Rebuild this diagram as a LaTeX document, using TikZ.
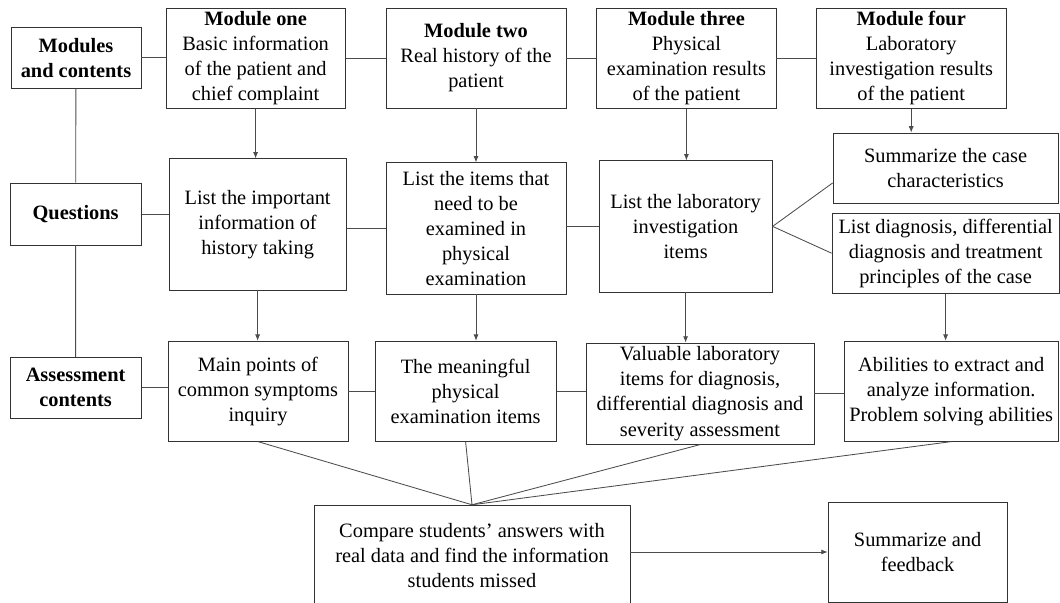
\documentclass[tikz,border=0pt]{standalone}
\usepackage{fontspec}
\setmainfont{Liberation Serif}
\usetikzlibrary{positioning,arrows.meta}

\begin{document}
\begin{tikzpicture}[
  cbox/.style={draw=black!80, line width=0.6pt, align=center, inner sep=0pt,
               font=\fontsize{14.5}{17.8}\selectfont},
  rowlab/.style={cbox, font=\fontsize{14.5}{17.8}\selectfont\bfseries},
  sz/.style 2 args={minimum width=#1cm, minimum height=#2cm},
  link/.style={draw=black!70, line width=0.6pt},
  >={Latex[length=4.5pt,width=3.6pt]}
]
\useasboundingbox (0,0) rectangle (26.5,-15.075);
% ---- Row labels (left column) ----
\node[rowlab, sz={3.25}{1.52}] (MC) at (1.90,-1.44) {Modules\\and contents};
\node[rowlab, sz={3.28}{1.55}] (QU) at (1.89,-5.35) {Questions};
\node[rowlab, sz={3.28}{1.52}] (AC) at (1.89,-9.69) {Assessment\\contents};
% ---- Modules ----
\node[cbox, sz={4.48}{2.52}] (M1) at (6.39,-1.46)
  {\textbf{Module one}\\Basic information\\of the patient and\\chief complaint};
\node[cbox, sz={4.50}{2.50}] (M2) at (11.90,-1.45)
  {\textbf{Module two}\\Real history of the\\patient};
\node[cbox, sz={4.48}{2.52}] (M3) at (17.16,-1.46)
  {\textbf{Module three}\\Physical\\examination results\\of the patient};
\node[cbox, sz={4.75}{2.52}] (M4) at (22.78,-1.46)
  {\textbf{Module four}\\Laboratory\\investigation results\\of the patient};
% ---- Questions ----
\node[cbox, sz={4.43}{3.28}] (Q1) at (6.44,-5.61)
  {List the important\\information of\\history taking};
\node[cbox, sz={4.50}{3.28}] (Q2) at (11.90,-5.71)
  {List the items that\\need to be\\examined in\\physical\\examination};
\node[cbox, sz={4.33}{3.28}] (Q3) at (17.14,-5.66)
  {List the laboratory\\investigation\\items};
\node[cbox, sz={5.63}{1.75}] (Q4) at (23.64,-4.20)
  {Summarize the case\\characteristics};
\node[cbox, sz={5.68}{2.00}] (Q5) at (23.64,-6.33)
  {List diagnosis, differential\\diagnosis and treatment\\principles of the case};
% ---- Assessment contents ----
\node[cbox, sz={4.50}{2.50}] (A1) at (6.45,-9.78)
  {Main points of\\common symptoms\\inquiry};
\node[cbox, sz={4.53}{2.50}] (A2) at (11.64,-9.78)
  {The meaningful\\physical\\examination items};
\node[cbox, sz={5.70}{2.53}] (A3) at (17.50,-9.84)
  {Valuable laboratory\\items for diagnosis,\\differential diagnosis and\\severity assessment};
\node[cbox, sz={5.35}{2.50}] (A4) at (23.78,-9.78)
  {Abilities to extract and\\analyze information.\\Problem solving abilities};
% ---- Comparison and feedback ----
\node[cbox, sz={7.90}{2.50}] (CP) at (11.80,-13.88)
  {Compare students’ answers with\\real data and find the information\\students missed};
\node[cbox, sz={4.48}{2.50}] (SF) at (22.94,-13.80)
  {Summarize and\\feedback};

% left column spine
\draw[link] (MC) -- (QU) (QU) -- (AC);
% horizontal links along each row
\draw[link] (MC.east) -- (MC.east -| M1.west);
\foreach \a/\b in {M1/M2,M2/M3,M3/M4}
  \draw[link] (\a.east |- \b.west) -- (\b.west);
\draw[link] (QU.east) -- (QU.east -| Q1.west);
\foreach \a/\b in {Q1/Q2,Q2/Q3}
  \draw[link] (\a.east |- \b.west) -- (\b.west);
\draw[link] (Q3.east) -- ([yshift=-0.375cm]Q4.west);
\draw[link] (Q3.east) -- (Q5.west);
\draw[link] (AC.east) -- (AC.east -| A1.west);
\foreach \a/\b in {A1/A2,A2/A3,A3/A4}
  \draw[link] (\a.east) -- (\a.east -| \b.west);
% downward arrows
\foreach \a/\b in {M1/Q1,M2/Q2,M3/Q3,M4/Q4,Q1/A1,Q2/A2,Q3/A3,Q5/A4}
  \draw[link,->] (\a.south) -- (\a.south |- \b.north);
% all assessments meet at the comparison box
\foreach \a in {A1,A2,A3,A4}
  \draw[link] (\a.south) -- (CP.north);
\draw[link,->] (CP.east |- SF.west) -- (SF.west);
\end{tikzpicture}
\end{document}
